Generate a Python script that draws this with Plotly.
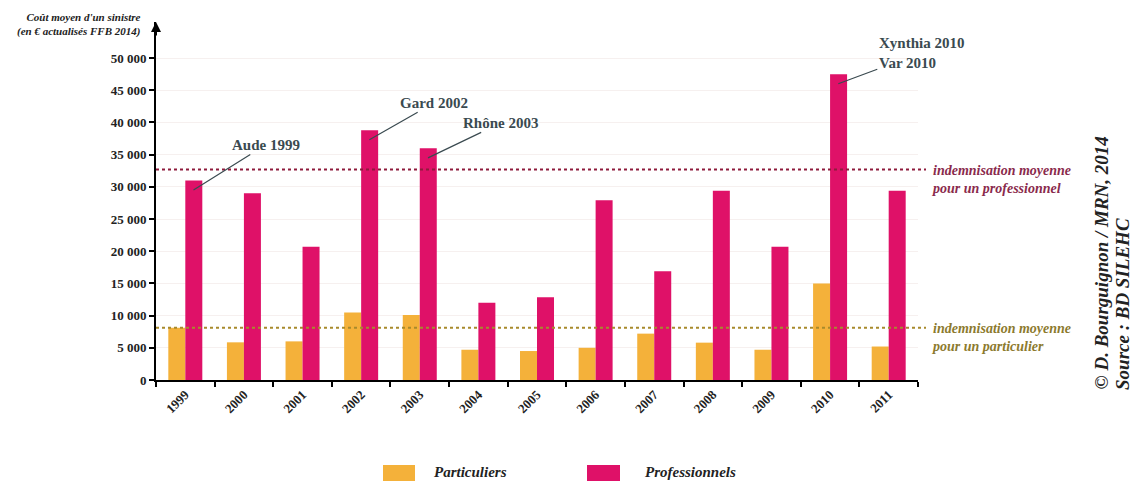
import plotly.graph_objects as go

years = ["1999", "2000", "2001", "2002", "2003", "2004", "2005", "2006", "2007", "2008", "2009", "2010", "2011"]
particuliers = [8100, 5850, 6000, 10500, 10100, 4700, 4500, 5000, 7200, 5800, 4700, 15000, 5200]
professionnels = [31000, 29000, 20700, 38800, 36000, 12000, 12850, 27900, 16900, 29400, 20700, 47500, 29400]
avg_particulier = 8100
avg_professionnel = 32700
y_ticks = [0, 5000, 10000, 15000, 20000, 25000, 30000, 35000, 40000, 45000, 50000]
y_tick_text = ["0", "5 000", "10 000", "15 000", "20 000", "25 000", "30 000", "35 000", "40 000", "45 000", "50 000"]
callouts = [("1999", "Aude 1999"), ("2002", "Gard 2002"), ("2003", "Rhône 2003"), ("2010", "Xynthia 2010<br>Var 2010")]
callout_offsets = [(72, -45), (65, -37), (73, -35), (83, -31)]

W, H = 1136, 481
L, R, T, B = 156, 918, 22, 380
YMAX = 55600
ORANGE = "#F4B13A"
PINK = "#DF1168"
SERIF = "Liberation Serif, Times New Roman, serif"

def px(x):
    return (x - L) / (R - L)

def py(y):
    return (B - y) / (B - T)

fig = go.Figure()
fig.add_trace(go.Bar(x=years, y=particuliers, name="Particuliers", marker_color=ORANGE, marker_line_width=0))
fig.add_trace(go.Bar(x=years, y=professionnels, name="Professionnels", marker_color=PINK, marker_line_width=0))

fig.update_layout(
    width=W, height=H,
    margin=dict(l=L, r=W - R, t=T, b=H - B),
    paper_bgcolor="white", plot_bgcolor="white",
    barmode="group", bargap=0.42, bargroupgap=0,
    showlegend=False,
    font=dict(family=SERIF, size=13, color="#222"),
)
fig.update_xaxes(
    type="category", showline=True, linecolor="black", linewidth=2,
    ticks="outside", tickson="boundaries", ticklen=5, tickwidth=2, tickcolor="black",
    tickangle=-45, tickfont=dict(family=SERIF, size=13, color="#222", weight="bold"),
    showgrid=False, range=[-0.5, 12.5], automargin=False,
)
fig.update_yaxes(
    range=[0, YMAX], tickvals=y_ticks, ticktext=y_tick_text,
    showline=True, linecolor="black", linewidth=2,
    ticks="outside", ticklen=5, tickwidth=2, tickcolor="black",
    tickfont=dict(family=SERIF, size=13, color="#222", weight="bold"),
    showgrid=True, gridcolor="#f6f0ef", gridwidth=1, zeroline=False, automargin=False,
)

# average lines
fig.add_shape(type="line", xref="paper", yref="y", x0=0, x1=px(926), y0=avg_professionnel, y1=avg_professionnel,
              line=dict(color="#8E1B3C", width=2, dash="dot"))
fig.add_shape(type="line", xref="paper", yref="y", x0=0, x1=px(926), y0=avg_particulier, y1=avg_particulier,
              line=dict(color="#A88A2C", width=2, dash="dot"))

fig.add_annotation(xref="paper", yref="y", x=px(930), y=avg_professionnel, xanchor="left", yanchor="middle",
                   text="indemnisation moyenne<br>pour un professionnel", align="left", showarrow=False, yshift=-10,
                   font=dict(family=SERIF, size=14, color="#8A2A4C", style="italic", weight="bold"))
fig.add_annotation(xref="paper", yref="y", x=px(930), y=avg_particulier, xanchor="left", yanchor="middle",
                   text="indemnisation moyenne<br>pour un particulier", align="left", showarrow=False, yshift=-10,
                   font=dict(family=SERIF, size=14, color="#8C7A2E", style="italic", weight="bold"))

# callouts
for (yr, label), (ax, ay) in zip(callouts, callout_offsets):
    i = years.index(yr)
    val = professionnels[i]
    fig.add_annotation(x=i + 0.14, y=val - 1500, xref="x", yref="y", text=label, align="left",
                       showarrow=True, arrowhead=0, arrowwidth=1.2, arrowcolor="#3A4A50",
                       ax=ax, ay=ay, axref="pixel", ayref="pixel",
                       font=dict(family=SERIF, size=15, color="#3A4A50", weight="bold"))

# y-axis arrow head
fig.add_annotation(xref="paper", yref="paper", x=0, y=1.0, ax=0, ay=15, showarrow=True,
                   arrowhead=2, arrowsize=1, arrowwidth=2, arrowcolor="black", text="")

# y-axis title
fig.add_annotation(xref="paper", yref="paper", x=px(143), y=py(25), xanchor="right", yanchor="middle",
                   text="Coût moyen d'un sinistre<br>(en € actualisés FFB 2014)", align="right", showarrow=False,
                   font=dict(family=SERIF, size=11, color="#222", style="italic", weight="bold"))

# legend (drawn manually)
fig.add_shape(type="rect", xref="paper", yref="paper", x0=px(383), x1=px(415), y0=py(485), y1=py(465),
              fillcolor=ORANGE, line_width=0)
fig.add_shape(type="rect", xref="paper", yref="paper", x0=px(587), x1=px(620), y0=py(485), y1=py(465),
              fillcolor=PINK, line_width=0)
fig.add_annotation(xref="paper", yref="paper", x=px(432), y=py(472), xanchor="left", yanchor="middle",
                   text="Particuliers", showarrow=False,
                   font=dict(family=SERIF, size=15, color="#222", style="italic", weight="bold"))
fig.add_annotation(xref="paper", yref="paper", x=px(643), y=py(472), xanchor="left", yanchor="middle",
                   text="Professionnels", showarrow=False,
                   font=dict(family=SERIF, size=15, color="#222", style="italic", weight="bold"))

# credit
fig.add_annotation(xref="paper", yref="paper", x=px(1101), y=py(392), xanchor="center", yanchor="bottom",
                   text="© D. Bourguignon / MRN, 2014", textangle=-90, showarrow=False,
                   font=dict(family=SERIF, size=19, color="#222", style="italic", weight="bold"))
fig.add_annotation(xref="paper", yref="paper", x=px(1122), y=py(392), xanchor="center", yanchor="bottom",
                   text="Source : BD SILEHC", textangle=-90, showarrow=False,
                   font=dict(family=SERIF, size=19, color="#222", style="italic", weight="bold"))

fig.write_html("out.html", config={"displayModeBar": False},
               post_script="document.body.style.margin='0';document.body.style.overflow='hidden';")
